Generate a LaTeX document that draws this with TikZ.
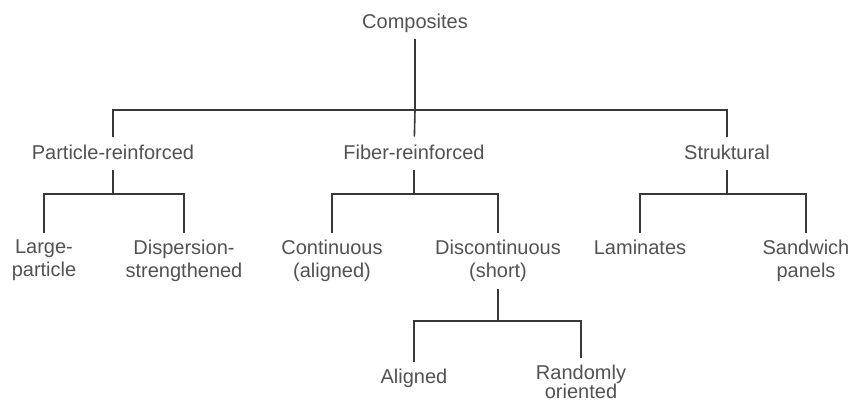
\documentclass[tikz,border=0pt]{standalone}
\usepackage{fontspec}
\setmainfont{Liberation Sans}
\begin{document}
\begin{tikzpicture}[x=1pt,y=-1pt,
  lbl/.style={inner sep=0pt, outer ysep=7pt, text=black!68,
    font=\fontsize{20}{23}\selectfont, align=center},
  one/.style={lbl, text height=16pt, text depth=3pt},
  conn/.style={draw=black!78, line width=1.6pt}]
\useasboundingbox[fill=white] (0,0) rectangle (853,405);
% nodes
\node[one] (comp) at (415,22) {Composites};
\node[one] (part) at (113,153) {Particle-reinforced};
\node[one] (fib)  at (414,153) {Fiber-reinforced};
\node[one] (str)  at (727,153) {Struktural};
\node[lbl,anchor=north] (large) at (44,233) {Large-\\particle};
\node[lbl,anchor=north] (disp)  at (184,233) {Dispersion-\\strengthened};
\node[lbl,anchor=north] (cont)  at (332,233) {Continuous\\(aligned)};
\node[lbl,anchor=north] (disc)  at (498,233) {Discontinuous\\(short)};
\node[lbl,anchor=north] (lam)   at (640,233) {Laminates};
\node[lbl,anchor=north] (sand)  at (806,233) {Sandwich\\panels};
\node[lbl,anchor=north] (alig)  at (414,362) {Aligned};
\node[lbl,anchor=north,font=\fontsize{20}{19}\selectfont] (rand) at (581,358) {Randomly\\oriented};
% junctions
\coordinate (j0) at (415,110);
\coordinate (j1) at (113,194);
\coordinate (j2) at (414,194);
\coordinate (j3) at (727,194);
\coordinate (j4) at (498,321);
% connectors
\draw[conn] (comp) -- (j0);
\draw[conn] (j0) -| (part);
\draw[conn] (j0) -- (fib);
\draw[conn] (j0) -| (str);
\draw[conn] (part) -- (j1);
\draw[conn] (j1) -| (large);
\draw[conn] (j1) -| (disp);
\draw[conn] (fib) -- (j2);
\draw[conn] (j2) -| (cont);
\draw[conn] (j2) -| (disc);
\draw[conn] (str) -- (j3);
\draw[conn] (j3) -| (lam);
\draw[conn] (j3) -| (sand);
\draw[conn] (disc) -- (j4);
\draw[conn] (j4) -| (alig);
\draw[conn] (j4) -| (rand);
\end{tikzpicture}
\end{document}
